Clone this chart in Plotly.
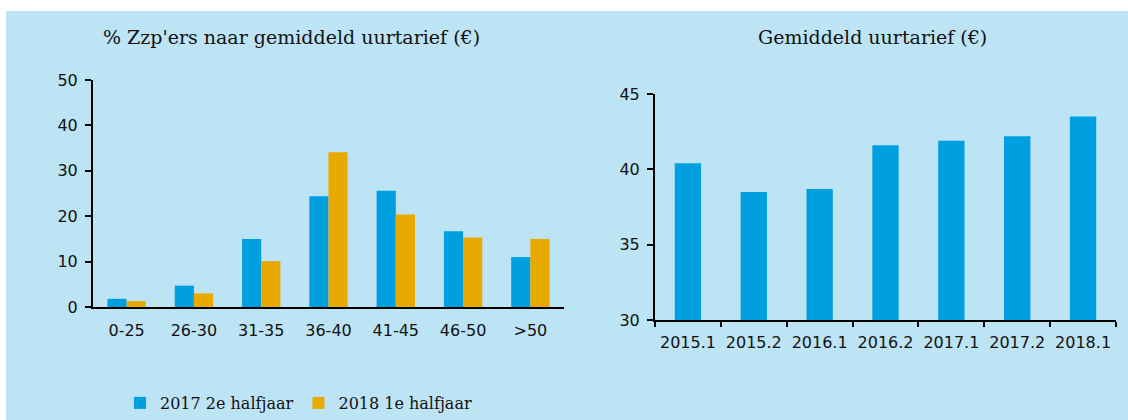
import plotly.graph_objects as go

# Left chart: share of zzp'ers by average hourly rate (%)
rate_bins = ["0-25", "26-30", "31-35", "36-40", "41-45", "46-50", ">50"]
share_2017h2 = [1.8, 4.7, 15.0, 24.4, 25.6, 16.7, 11.0]
share_2018h1 = [1.3, 3.0, 10.1, 34.1, 20.4, 15.3, 15.0]

# Right chart: average hourly rate (EUR)
periods = ["2015.1", "2015.2", "2016.1", "2016.2", "2017.1", "2017.2", "2018.1"]
avg_rate = [40.4, 38.5, 38.7, 41.6, 41.9, 42.2, 43.5]

W, H = 1128, 420
BLUE = "#009fe0"
ORANGE = "#e8aa00"
PANEL = "#bde4f5"
TICK_FONT = dict(family="DejaVu Sans", size=16, color="#111111")
SERIF = "DejaVu Serif"


def px_x(v):
    return v / W


def px_y(v):
    # v measured from the top of the image
    return (H - v) / H


fig = go.Figure()

fig.add_trace(go.Bar(
    x=rate_bins, y=share_2017h2, name="2017 2e halfjaar",
    marker=dict(color=BLUE, line=dict(width=0)),
    width=0.285, offset=-0.285, xaxis="x", yaxis="y",
))
fig.add_trace(go.Bar(
    x=rate_bins, y=share_2018h1, name="2018 1e halfjaar",
    marker=dict(color=ORANGE, line=dict(width=0)),
    width=0.285, offset=0, xaxis="x", yaxis="y",
))
fig.add_trace(go.Bar(
    x=periods, y=avg_rate, showlegend=False,
    marker=dict(color=BLUE, line=dict(width=0)),
    width=0.4, offset=-0.2, xaxis="x2", yaxis="y2",
))

axis_common = dict(showline=True, linecolor="black", linewidth=2,
                   showgrid=False, zeroline=False, tickfont=TICK_FONT)

fig.update_layout(
    width=W, height=H,
    margin=dict(l=0, r=0, t=0, b=0, autoexpand=False),
    paper_bgcolor="white",
    plot_bgcolor="rgba(0,0,0,0)",
    barmode="overlay",
    showlegend=True,
    legend=dict(
        orientation="h", x=px_x(120), y=px_y(403), yanchor="middle",
        bgcolor="rgba(0,0,0,0)",
        font=dict(family=SERIF, size=16, color="#111111"),
        itemwidth=30, tracegroupgap=0,
    ),
    xaxis=dict(
        domain=[px_x(93), px_x(564)], anchor="y", type="category",
        range=[-0.5, 6.5], ticks="", ticklabelstandoff=8, tickangle=0,
        **axis_common,
    ),
    yaxis=dict(
        domain=[px_y(307), px_y(80)], anchor="x", range=[0, 50], dtick=10,
        ticks="outside", ticklen=6, tickwidth=2, tickcolor="black",
        ticklabelstandoff=4, **axis_common,
    ),
    xaxis2=dict(
        domain=[px_x(655), px_x(1116)], anchor="y2", type="category",
        range=[-0.5, 6.5], ticks="outside", tickson="boundaries",
        ticklen=5, tickwidth=2, tickcolor="black", ticklabelstandoff=7,
        tickangle=0, **axis_common,
    ),
    yaxis2=dict(
        domain=[px_y(320), px_y(94)], anchor="x2", range=[30, 45], dtick=5,
        ticks="outside", ticklen=6, tickwidth=2, tickcolor="black",
        ticklabelstandoff=4, **axis_common,
    ),
    shapes=[dict(
        type="rect", xref="paper", yref="paper", layer="below",
        x0=px_x(6), x1=1, y0=0, y1=px_y(11),
        fillcolor=PANEL, line=dict(width=0),
    )],
    annotations=[
        dict(text="% Zzp'ers naar gemiddeld uurtarief (€)", xref="paper", yref="paper",
             x=px_x(291), y=px_y(37), xanchor="center", yanchor="middle",
             showarrow=False, font=dict(family=SERIF, size=19, color="#111111")),
        dict(text="Gemiddeld uurtarief (€)", xref="paper", yref="paper",
             x=px_x(872), y=px_y(37), xanchor="center", yanchor="middle",
             showarrow=False, font=dict(family=SERIF, size=19, color="#111111")),
    ],
)

fig.write_html(
    "out.html",
    config={"displayModeBar": False},
    post_script="document.body.style.margin = '0';",
)
